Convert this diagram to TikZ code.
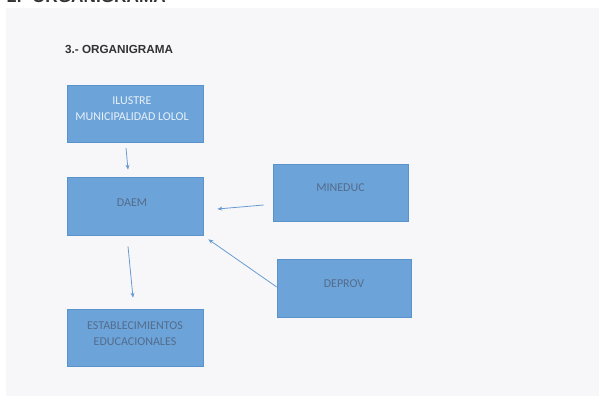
\documentclass[tikz,border=0pt]{standalone}
\usepackage{fontspec}
\setmainfont{Carlito}
\newfontfamily\arialf{Liberation Sans}
\usetikzlibrary{arrows.meta,calc}
\definecolor{pagebg}{HTML}{F7F7FA}
\definecolor{boxfill}{HTML}{6CA4D9}
\definecolor{boxline}{HTML}{5A92CB}
\definecolor{arrowc}{HTML}{6A9BD0}
\definecolor{txtdark}{HTML}{546B8C}
\definecolor{txtlight}{HTML}{E8F0F8}
\definecolor{headc}{HTML}{333333}
\tikzset{
  orgbox/.style={draw=boxline, line width=0.6pt, fill=boxfill, minimum width=136pt, minimum height=57pt, inner sep=0pt},
  orgtext/.style={inner sep=0pt, align=center, font=\fontsize{12}{16}\selectfont, text=txtdark},
  orgarrow/.style={draw=arrowc, line width=0.8pt, -{Stealth[length=5pt,width=4pt]}}
}
\begin{document}
\begin{tikzpicture}[x=1pt,y=-1pt]
\useasboundingbox (0,0) rectangle (599,401);
\clip (0,0) rectangle (599,401);
\fill[white] (0,0) rectangle (599,401);
\fill[pagebg] (6,8) rectangle (599,396);
\node[anchor=base west, inner sep=0pt, font=\arialf\bfseries\fontsize{17.2}{17}\selectfont, text=headc] (top) at (7,3) {2.- ORGANIGRAMA};
\node[anchor=base west, inner sep=0pt, font=\arialf\bfseries\fontsize{11.7}{13}\selectfont, text=headc] (title) at (65,54) {3.- ORGANIGRAMA};
\node[orgbox] (ilustre) at (135,114) {};
\node[orgbox, minimum height=58pt] (daem) at (135,206) {};
\node[orgbox, minimum width=135pt] (mineduc) at (340.5,192.5) {};
\node[orgbox, minimum width=134pt, minimum height=58pt] (deprov) at (344,288) {};
\node[orgbox] (estab) at (135,337.5) {};
\node[orgtext, text=txtlight] (ilustre-t) at ($(ilustre.center)+(-3,-5)$) {ILUSTRE\\MUNICIPALIDAD LOLOL};
\node[orgtext] (daem-t) at ($(daem.center)+(-3,-3)$) {DAEM};
\node[orgtext] (mineduc-t) at ($(mineduc.center)+(0,-5)$) {MINEDUC};
\node[orgtext] (deprov-t) at ($(deprov.center)+(0,-4)$) {DEPROV};
\node[orgtext] (estab-t) at ($(estab.center)+(0,-4)$) {ESTABLECIMIENTOS\\EDUCACIONALES};
\draw[orgarrow] ($(ilustre.south)+(-9,5)$) -- ($(daem.north)+(-7,-7)$);
\draw[orgarrow] ($(daem.south)+(-7,11)$) -- ($(estab.north)+(-2,-11)$);
\draw[orgarrow] ($(mineduc.west)+(-9,12.5)$) -- ($(daem.east)+(14,3)$);
\draw[orgarrow] ($(deprov.west)+(0,-1)$) -- ($(daem.south east)+(5,4)$);
\end{tikzpicture}
\end{document}
